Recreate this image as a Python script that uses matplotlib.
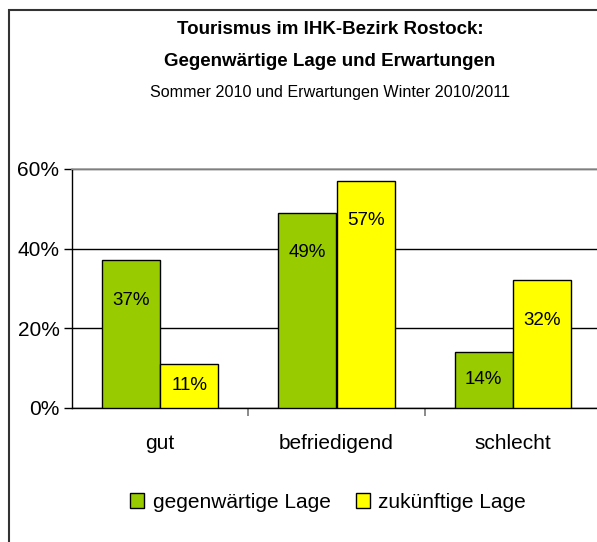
import matplotlib.pyplot as plt
import numpy as np
from matplotlib.patches import Rectangle

plt.rcParams['font.family'] = ['Liberation Sans', 'DejaVu Sans']

categories = ['gut', 'befriedigend', 'schlecht']
aktuell = [37, 49, 14]
zukunft = [11, 57, 32]
series_names = ['gegenwärtige Lage', 'zukünftige Lage']
green = '#99cc00'
yellow = '#ffff00'

W, H = 597, 542
fig = plt.figure(figsize=(W / 100, H / 100), dpi=100)

# rahmen um das diagramm (rechts/unten abgeschnitten)
fig.patches.append(Rectangle((9 / W, -0.05), 1.2, 1 - 10 / H + 0.05, transform=fig.transFigure,
                             fill=False, edgecolor='#333333', linewidth=1.5))

left, right, top, bottom = 72, 601, 169, 407.5
ax = fig.add_axes([left / W, 1 - bottom / H, (right - left) / W, (bottom - top) / H])

x = np.arange(len(categories))
w = 0.33
b1 = ax.bar(x - w / 2, aktuell, w, color=green, edgecolor='black', linewidth=1, zorder=3)
b2 = ax.bar(x + w / 2, zukunft, w, color=yellow, edgecolor='black', linewidth=1, zorder=3)

for bars, vals in [(b1, aktuell), (b2, zukunft)]:
    for bar, v in zip(bars, vals):
        ax.text(bar.get_x() + bar.get_width() / 2, v - min(10, v / 2), f'{v}%',
                ha='center', va='center', fontsize=13.5, zorder=4)

ax.set_xlim(-0.5, 2.5)
ax.set_ylim(0, 60)
ax.set_yticks([0, 20, 40, 60])
ax.set_yticklabels(['0%', '20%', '40%', '60%'], fontsize=15)
ax.yaxis.grid(True, color='black', linewidth=1, zorder=0)
ax.set_xticks([0.5, 1.5], minor=True)
ax.set_xticks(x)
ax.set_xticklabels(categories, fontsize=15)
ax.tick_params(axis='x', which='major', length=0, pad=19)
ax.tick_params(axis='x', which='minor', length=6, color='#777777', width=1.2)
ax.tick_params(axis='y', length=6, width=1, pad=3)
for s in ['top', 'right']:
    ax.spines[s].set_color('#999999')
    ax.spines[s].set_linewidth(1.2)
ax.spines['left'].set_linewidth(1)
ax.spines['bottom'].set_linewidth(1)

fig.text(330 / W, 1 - 30 / H, 'Tourismus im IHK-Bezirk Rostock:', ha='center', va='center',
         fontsize=13.5, fontweight='bold')
fig.text(330 / W, 1 - 62 / H, 'Gegenwärtige Lage und Erwartungen', ha='center', va='center',
         fontsize=13.5, fontweight='bold')
fig.text(330 / W, 1 - 92 / H, 'Sommer 2010 und Erwartungen Winter 2010/2011', ha='center', va='center',
         fontsize=11.6)

handles = [Rectangle((0, 0), 1, 1, facecolor=green, edgecolor='black'),
           Rectangle((0, 0), 1, 1, facecolor=yellow, edgecolor='black')]
fig.legend(handles, series_names, loc='center', bbox_to_anchor=(328 / W, 1 - 502 / H), ncol=2,
           frameon=False, fontsize=15, handlelength=0.7, handleheight=0.7, handletextpad=0.4,
           columnspacing=1.2)

fig.savefig('out.png', dpi=100)
